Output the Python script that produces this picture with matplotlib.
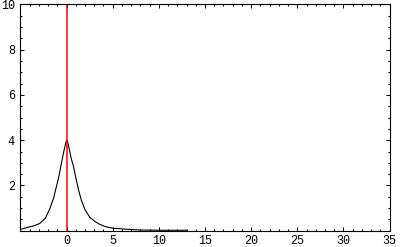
import numpy as np
import matplotlib
matplotlib.use('Agg')
import matplotlib.pyplot as plt
from matplotlib.ticker import MultipleLocator, FixedLocator

# curve values
x_vals = [-5.0, -4.2, -3.5, -2.9, -2.3, -1.8, -1.4, -1.1, -0.8, -0.55, -0.3, -0.1,
          0.0, 0.1, 0.3, 0.5, 0.75, 1.0, 1.3, 1.6, 2.0, 2.5, 3.1, 3.6, 4.2, 5.0,
          6.0, 7.0, 8.0, 10.0, 12.0, 13.0]
y_vals = [0.06, 0.15, 0.22, 0.32, 0.55, 0.98, 1.45, 1.95, 2.45, 3.0, 3.5, 3.85,
          4.0, 3.95, 3.6, 3.2, 2.85, 2.35, 1.8, 1.35, 0.93, 0.6, 0.40, 0.28, 0.18, 0.11,
          0.08, 0.05, 0.03, 0.02, 0.02, 0.02]
marker_x = 0.0

x_ticks = [0, 5, 10, 15, 20, 25, 30, 35]
y_ticks = [2, 4, 6, 8, 10]

plt.rcParams['font.family'] = ['Liberation Mono', 'DejaVu Sans Mono']

fig = plt.figure(figsize=(4.0, 2.47), dpi=100)
ax = fig.add_axes([0.051, 0.066, 0.923, 0.916])

ax.plot(x_vals, y_vals, color='black', lw=0.8)
ax.axvline(marker_x, color='red', lw=1.1)

ax.set_xlim(-5, 35)
ax.set_ylim(0, 10)

ax.xaxis.set_major_locator(FixedLocator(x_ticks))
ax.yaxis.set_major_locator(FixedLocator(y_ticks))
ax.xaxis.set_minor_locator(MultipleLocator(1))
ax.yaxis.set_minor_locator(MultipleLocator(0.5))

ax.tick_params(which='both', direction='in', top=True, right=True,
               width=0.75, labelsize=8.5, colors='black')
ax.tick_params(which='major', length=3.0)
ax.tick_params(which='minor', length=1.6)
ax.tick_params(axis='y', pad=4)
ax.tick_params(axis='x', pad=3)

for s in ax.spines.values():
    s.set_linewidth(0.8)

fig.savefig('out.png', dpi=100)
